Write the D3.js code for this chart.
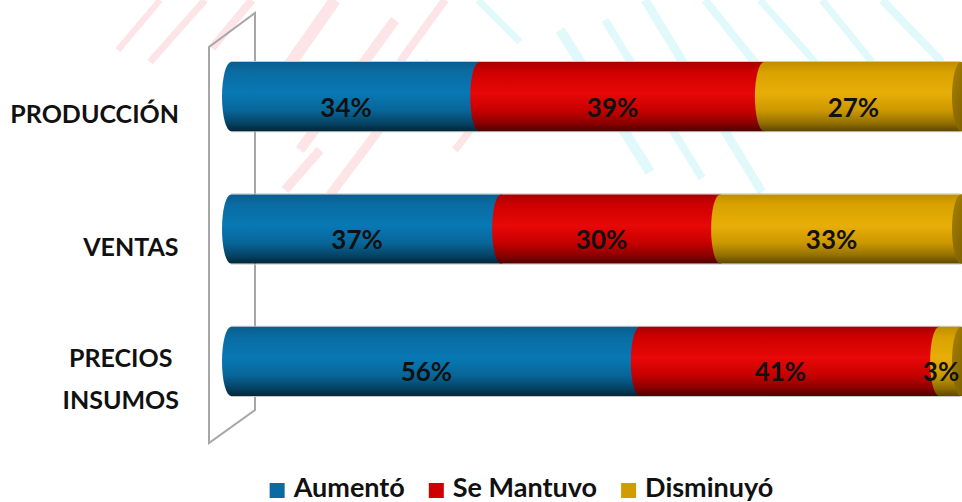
<!DOCTYPE html>
<html>
<head>
<meta charset="utf-8">
<script src="https://cdn.jsdelivr.net/npm/d3@7"></script>
<style>
  body { margin: 0; background: #fff; }
  svg text { font-family: Lato, "Open Sans", sans-serif; font-weight: bold; }
</style>
</head>
<body>
<div id="chart"></div>
<script>
var categories = ["PRODUCCIÓN", "VENTAS", "PRECIOS\nINSUMOS"];
var seriesNames = ["Aumentó", "Se Mantuvo", "Disminuyó"];
var aumento = [34, 37, 56];
var mantuvo = [39, 30, 41];
var disminuyo = [27, 33, 3];

var width = 962, height = 502;
var colors = ["#0b6aa2", "#d00000", "#d29c00"];
// cylinder shading, top -> bottom
var shades = [
  ["#0b5d8e", "#0a6ca3", "#0878b4", "#086699", "#054466", "#032639"],
  ["#a80000", "#cf0000", "#e80808", "#c60000", "#8c0000", "#4f0000"],
  ["#bf8f00", "#d9a200", "#e8ae08", "#cc9800", "#937000", "#5e4700"]
];
var stopAt = [0, 0.15, 0.45, 0.7, 0.88, 1];

var svg = d3.select("#chart").append("svg")
  .attr("width", width).attr("height", height);

var defs = svg.append("defs");
shades.forEach(function(s, i) {
  var g = defs.append("linearGradient").attr("id", "cyl" + i)
    .attr("x1", 0).attr("y1", 0).attr("x2", 0).attr("y2", 1);
  s.forEach(function(c, j) {
    g.append("stop").attr("offset", stopAt[j]).attr("stop-color", c);
  });
});
var capg = defs.append("linearGradient").attr("id", "cap")
  .attr("x1", 0).attr("y1", 0).attr("x2", 1).attr("y2", 1);
capg.append("stop").attr("offset", 0).attr("stop-color", "#a88200");
capg.append("stop").attr("offset", 1).attr("stop-color", "#735700");

//========== faint watermark stripes ==========
var pink = [[118,50,160,0,6],[150,62,205,0,7],[212,48,252,0,8],[262,104,335,0,12],
            [300,150,395,20,10],[330,195,430,62,9],[400,62,445,0,8],[455,150,505,85,7],
            [285,190,320,150,9]];
var cyan = [[478,0,520,42,7],[560,30,650,172,10],[605,20,702,178,8],[645,0,762,192,9],
            [705,0,805,125,8],[760,0,840,90,7],[822,0,872,62,7],[882,0,942,62,8]];
var wm = svg.append("g").attr("class", "watermark");
wm.selectAll("line.p").data(pink).enter().append("line")
  .attr("x1", function(d){return d[0];}).attr("y1", function(d){return d[1];})
  .attr("x2", function(d){return d[2];}).attr("y2", function(d){return d[3];})
  .attr("stroke", "#fde4e6").attr("stroke-width", function(d){return d[4];});
wm.selectAll("line.c").data(cyan).enter().append("line")
  .attr("x1", function(d){return d[0];}).attr("y1", function(d){return d[1];})
  .attr("x2", function(d){return d[2];}).attr("y2", function(d){return d[3];})
  .attr("stroke", "#e1f9fb").attr("stroke-width", function(d){return d[4];});

//========== scales ==========
var x = d3.scaleLinear().domain([0, 100]).range([222, 952]);
var y = d3.scaleBand().domain(categories).range([62, 396])
  .paddingInner(0.477).paddingOuter(0);
var bh = y.bandwidth();
var rx = 9;

//========== back wall ==========
var wx = x(0) - 13, wd = 46;
svg.append("polygon")
  .attr("points", [[wx, 47], [wx + wd, 13], [wx + wd, 410], [wx, 443]].join(" "))
  .attr("fill", "none").attr("stroke", "#a6a6a6").attr("stroke-width", 2);

//========== stacked data ==========
var rows = categories.map(function(c, i) {
  return {cat: c, vals: [aumento[i], mantuvo[i], disminuyo[i]]};
});

function segPath(xa, xb, t, b) {
  var ry = (b - t) / 2;
  return "M" + (xa + rx) + "," + t +
    "A" + rx + "," + ry + " 0 0 0 " + (xa + rx) + "," + b +
    "L" + (xb + rx) + "," + b +
    "A" + rx + "," + ry + " 0 0 0 " + (xb + rx) + "," + t + "Z";
}

var bars = svg.append("g").attr("class", "bars");
rows.forEach(function(r) {
  var t = y(r.cat), b = t + bh, cy = t + bh / 2;
  var g = bars.append("g");
  // light edge lines
  g.append("line").attr("x1", x(0) + rx).attr("x2", x(100) + rx)
    .attr("y1", t - 0.5).attr("y2", t - 0.5).attr("stroke", "#c9c9c9");
  g.append("line").attr("x1", x(0) + rx).attr("x2", x(100) + rx)
    .attr("y1", b + 0.5).attr("y2", b + 0.5).attr("stroke", "#c9c9c9");
  var acc = 0;
  var segs = r.vals.map(function(v, i) {
    var s = {i: i, v: v, a: acc, b: acc + v};
    acc += v;
    return s;
  });
  g.selectAll("path.seg").data(segs).enter().append("path")
    .attr("class", "seg")
    .attr("d", function(d){ return segPath(x(d.a), x(d.b), t, b); })
    .attr("fill", function(d){ return "url(#cyl" + d.i + ")"; });
  g.append("ellipse")
    .attr("cx", x(acc) + rx).attr("cy", cy).attr("rx", rx).attr("ry", bh / 2)
    .attr("fill", "url(#cap)");
  g.selectAll("text").data(segs).enter().append("text")
    .attr("x", function(d){ return x((d.a + d.b) / 2); })
    .attr("y", cy + 20)
    .attr("text-anchor", "middle")
    .attr("font-size", 26)
    .attr("fill", "#111")
    .text(function(d){ return d.v + "%"; });
});

//========== category labels ==========
var labels = svg.append("g").attr("class", "cats");
categories.forEach(function(c) {
  var lines = c.split("\n");
  var cy = y(c) + bh / 2;
  var base = cy + 26.5 - (lines.length - 1) * 20.8;
  var tx = labels.append("text").attr("text-anchor", "middle")
    .attr("font-size", 25).attr("fill", "#111");
  lines.forEach(function(l, k) {
    tx.append("tspan").attr("x", 0).attr("y", base + k * 41.6).text(l);
  });
  // right-align the block at x = 179
  var w = tx.node().getBBox().width;
  tx.attr("transform", "translate(" + (179 - w / 2) + ",0)");
});

//========== legend ==========
var legend = svg.append("g").attr("class", "legend");
var items = legend.selectAll("g").data(seriesNames).enter().append("g");
items.append("rect").attr("width", 15).attr("height", 15).attr("y", 483)
  .attr("fill", function(d, i){ return colors[i]; });
items.append("text").attr("x", 24).attr("y", 497)
  .attr("font-size", 27).attr("fill", "#111")
  .text(function(d){ return d; });
var lx = 0, pos = [];
items.each(function() {
  pos.push(lx);
  lx += 24 + d3.select(this).select("text").node().getComputedTextLength() + 24;
});
lx -= 24;
var start = 521.5 - lx / 2;
items.attr("transform", function(d, i){ return "translate(" + (start + pos[i]) + ",0)"; });
</script>
</body>
</html>
